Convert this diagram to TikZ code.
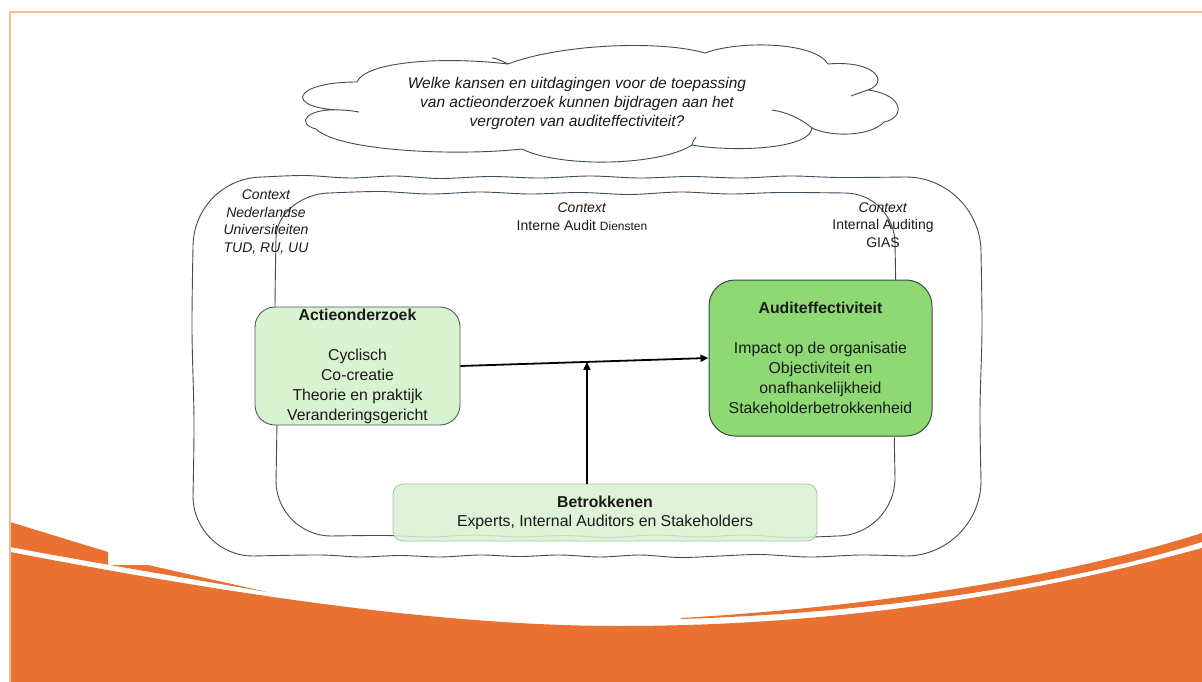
\documentclass[tikz,border=0pt]{standalone}
\usepackage{fontspec}
\setmainfont{Liberation Sans}
\usetikzlibrary{arrows.meta,calc}
\definecolor{orng}{HTML}{E97132}
\definecolor{lorng}{HTML}{F5B994}
\definecolor{lgreen}{HTML}{D9F2D0}
\definecolor{mgreen}{HTML}{8ED973}
\definecolor{framec}{HTML}{3E4C59}
\definecolor{boxgray}{HTML}{4A5C5C}
\definecolor{audborder}{HTML}{3C4A3C}
\definecolor{betborder}{HTML}{A9C6A2}
\definecolor{txt}{HTML}{1A1A1A}
\begin{document}
\begin{tikzpicture}[x=1pt,y=-1pt,
  every node/.style={font=\fontsize{15.8}{20}\selectfont, text=txt},
  ctx/.style={font=\fontsize{14}{17.5}\selectfont, align=center, inner sep=0pt},
  frm/.style={draw=framec, line width=0.9pt},
  wv/.style={smooth, tension=0.55},
  lbox/.style={draw=boxgray, line width=0.9pt, fill=lgreen, rounded corners=20pt,
    align=center, inner sep=0pt},
  abox/.style={draw=audborder, line width=1pt, fill=mgreen, rounded corners=26pt,
    align=center, inner sep=0pt},
  bbox/.style={draw=betborder, line width=0.8pt, fill=lgreen, fill opacity=0.85,
    text opacity=1, rounded corners=10pt, align=center, inner sep=0pt},
  arr/.style={line width=1.8pt, -{Triangle[length=8pt,width=7pt]}}
]
\useasboundingbox (0,0) rectangle (1202,682);
\fill[white] (0,0) rectangle (1202,682);

% orange decoration at the bottom
\fill[orng] (10,552) .. controls (250,598) and (450,626) .. (620,626)
  .. controls (850,626) and (1050,590) .. (1202,548) -- (1202,682) -- (10,682) -- cycle;
\fill[orng] (10,522) -- (108,552) -- (108,565) -- (148,565) -- (267,592)
  .. controls (180,577) and (90,562) .. (10,547) -- cycle;
\fill[orng] (681,618) .. controls (900,605) and (1080,572) .. (1202,533) -- (1202,542)
  .. controls (1080,580) and (900,612) .. (681,619) -- cycle;
\draw[lorng, line width=1.2pt] (10,682) -- (10,12) -- (1202,12);

% context frames (hand-drawn rounded rectangles)
\draw[frm] (193,247) .. controls (193,208) and (224,177) .. (263,177)
  -- plot[wv] coordinates {(263,177) (305,175.5) (350,178) (395,176) (440,178.5) (490,176.5)
     (540,178) (590,176) (640,178) (690,176.5) (740,178) (790,176) (840,177.5) (906,177)}
  .. controls (947,177) and (981,211) .. (981,252)
  -- plot[wv] coordinates {(981,252) (982,330) (980,410) (981,481)}
  .. controls (981,522) and (947,556) .. (906,556)
  -- plot[wv] coordinates {(906,556) (860,555) (810,557) (760,554.5) (720,556) (680,557.5)
     (640,555) (600,557) (560,555) (520,556.5) (480,555) (440,557) (400,555.5) (360,557)
     (320,555) (253,556)}
  .. controls (220,556) and (193,529) .. (193,496)
  -- plot[wv] coordinates {(193,496) (194,420) (192,330) (193,247)} -- cycle;
\draw[frm] (276,238) .. controls (276,213) and (303,193) .. (330,193)
  -- plot[wv] coordinates {(330,193) (380,191.5) (430,194) (480,192) (530,194) (580,192.5)
     (630,194.5) (680,192) (730,194) (780,192.5) (845,193)}
  .. controls (873,193) and (895,216) .. (895,244)
  -- plot[wv] coordinates {(895,244) (896,320) (894,400) (895,478)}
  .. controls (895,510) and (869,536) .. (837,536)
  -- plot[wv] coordinates {(837,536) (790,537.5) (745,535) (700,537) (655,535) (610,537.5)
     (565,535.5) (520,537) (475,535) (430,537) (385,535.5) (331,536)}
  .. controls (301,536) and (276,511) .. (276,481)
  -- plot[wv] coordinates {(276,481) (277,400) (275,320) (276,238)} -- cycle;

% cloud outline
\draw[frm, fill=white] (357,82) .. controls (365,62) and (440,56) .. (508,64)
  .. controls (560,44) and (660,40) .. (705,53)
  .. controls (740,40) and (815,42) .. (828,64)
  .. controls (875,60) and (890,82) .. (868,90)
  .. controls (905,95) and (905,118) .. (884,122)
  .. controls (870,137) and (830,137) .. (812,128)
  .. controls (810,150) and (730,152) .. (692,145)
  .. controls (660,166) and (560,168) .. (522,149)
  .. controls (460,156) and (340,152) .. (316,129)
  .. controls (296,124) and (305,108) .. (340,110)
  .. controls (284,108) and (292,82) .. (357,82) -- cycle;
\draw[frm] (508,64) .. controls (500,60) and (496,58) .. (492,58);
\draw[frm] (812,128) .. controls (800,118) and (786,112) .. (772,110);
\draw[frm] (868,90) .. controls (862,92) and (856,94) .. (851,96);
\draw[frm] (340,110) .. controls (347,110) and (353,111) .. (359,112);
\draw[frm] (692,145) .. controls (693,141) and (694,139) .. (696,137);

% question
\node[font=\fontsize{15.5}{19}\selectfont\itshape, align=center, inner sep=0pt] (q) at (577,103)
  {Welke kansen en uitdagingen voor de toepassing\\van actieonderzoek kunnen bijdragen aan het\\vergroten van auditeffectiviteit?};

% context labels
\node[ctx, font=\fontsize{14}{17.5}\selectfont\itshape] (c1) at (266,222)
  {Context\\Nederlandse\\Universiteiten\\TUD, RU, UU};
\node[ctx] (c2) at (582,216.5)
  {\textit{Context}\\Interne Audit {\fontsize{12}{17.5}\selectfont Diensten}};
\node[ctx] (c3) at (883,225)
  {\textit{Context}\\Internal Auditing\\GIAS};

% boxes
\node[lbox, minimum width=205pt, minimum height=118pt] (act) at (357.5,366)
  {\textbf{Actieonderzoek}\\[20pt]Cyclisch\\Co-creatie\\Theorie en praktijk\\Veranderingsgericht};
\node[abox, minimum width=223pt, minimum height=156pt] (aud) at (820.5,358)
  {\textbf{Auditeffectiviteit}\\[20pt]Impact op de organisatie\\Objectiviteit en\\onafhankelijkheid\\Stakeholderbetrokkenheid};
\node[bbox, minimum width=424pt, minimum height=57pt, font=\fontsize{15.8}{19}\selectfont] (bet) at (605,512.5)
  {\textbf{Betrokkenen}\\Experts, Internal Auditors en Stakeholders};

% connectors
\coordinate (m) at ($(act.east)!0.51!(aud.west)$);
\draw[arr] (act.east) -- (aud.west);
\draw[arr] (m |- bet.north) -- (m);
\end{tikzpicture}
\end{document}
